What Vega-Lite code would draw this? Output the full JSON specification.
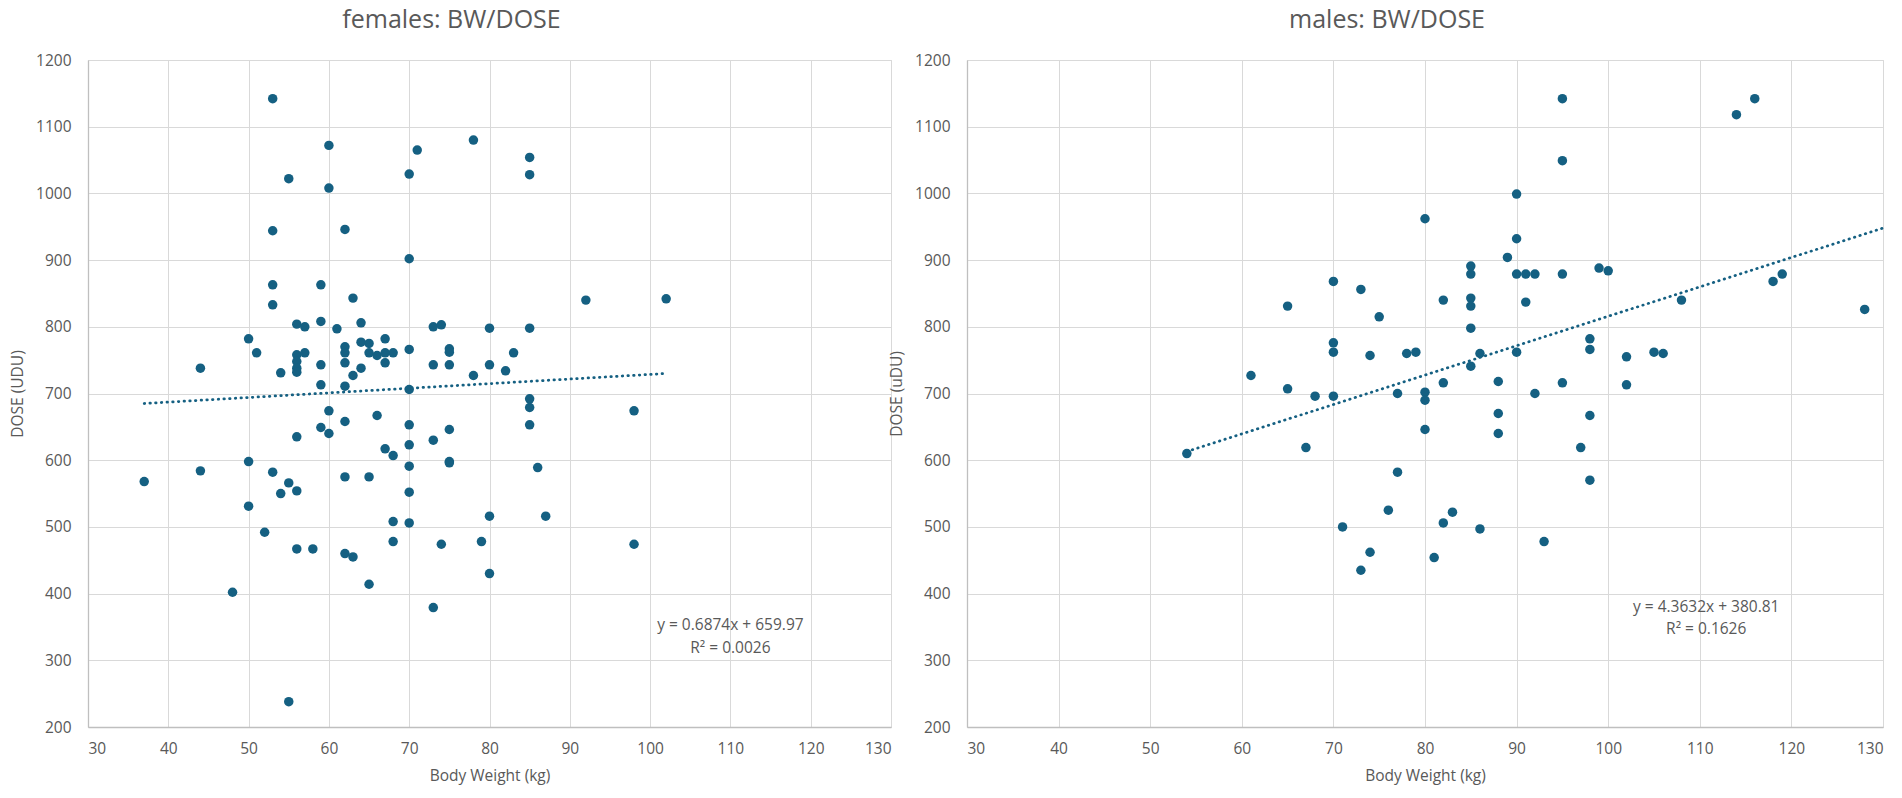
{
  "$schema": "https://vega.github.io/schema/vega-lite/v6.json",
  "background": "white",
  "padding": {"left": 10, "top": 7, "right": 3, "bottom": 0},
  "datasets": {
    "females": [
      {"bw": 53, "dose": 1142}, {"bw": 60, "dose": 1072}, {"bw": 71, "dose": 1065}, {"bw": 78, "dose": 1080},
      {"bw": 55, "dose": 1022}, {"bw": 60, "dose": 1008}, {"bw": 70, "dose": 1029}, {"bw": 53, "dose": 944},
      {"bw": 62, "dose": 946}, {"bw": 70, "dose": 902}, {"bw": 53, "dose": 863}, {"bw": 59, "dose": 863},
      {"bw": 53, "dose": 833}, {"bw": 63, "dose": 843}, {"bw": 59, "dose": 808}, {"bw": 56, "dose": 804},
      {"bw": 57, "dose": 800}, {"bw": 61, "dose": 797}, {"bw": 64, "dose": 806}, {"bw": 73, "dose": 800},
      {"bw": 74, "dose": 803}, {"bw": 50, "dose": 782}, {"bw": 51, "dose": 761}, {"bw": 44, "dose": 738},
      {"bw": 54, "dose": 731}, {"bw": 56, "dose": 758}, {"bw": 56, "dose": 748}, {"bw": 56, "dose": 738},
      {"bw": 56, "dose": 732}, {"bw": 57, "dose": 761}, {"bw": 59, "dose": 743}, {"bw": 59, "dose": 713},
      {"bw": 62, "dose": 770}, {"bw": 62, "dose": 761}, {"bw": 62, "dose": 746}, {"bw": 62, "dose": 711},
      {"bw": 63, "dose": 727}, {"bw": 64, "dose": 777}, {"bw": 64, "dose": 738}, {"bw": 65, "dose": 775},
      {"bw": 65, "dose": 761}, {"bw": 66, "dose": 757}, {"bw": 67, "dose": 782}, {"bw": 67, "dose": 761},
      {"bw": 67, "dose": 746}, {"bw": 68, "dose": 761}, {"bw": 70, "dose": 766}, {"bw": 73, "dose": 743},
      {"bw": 75, "dose": 767}, {"bw": 75, "dose": 762}, {"bw": 75, "dose": 743}, {"bw": 78, "dose": 727},
      {"bw": 60, "dose": 674}, {"bw": 59, "dose": 649}, {"bw": 60, "dose": 640}, {"bw": 62, "dose": 658},
      {"bw": 66, "dose": 667}, {"bw": 56, "dose": 635}, {"bw": 70, "dose": 706}, {"bw": 70, "dose": 653},
      {"bw": 70, "dose": 623}, {"bw": 70, "dose": 591}, {"bw": 70, "dose": 552}, {"bw": 70, "dose": 506},
      {"bw": 73, "dose": 630}, {"bw": 75, "dose": 646}, {"bw": 75, "dose": 598}, {"bw": 75, "dose": 596},
      {"bw": 67, "dose": 617}, {"bw": 68, "dose": 607}, {"bw": 50, "dose": 598}, {"bw": 44, "dose": 584},
      {"bw": 37, "dose": 568}, {"bw": 53, "dose": 582}, {"bw": 55, "dose": 566}, {"bw": 54, "dose": 550},
      {"bw": 56, "dose": 554}, {"bw": 50, "dose": 531}, {"bw": 52, "dose": 492}, {"bw": 56, "dose": 467},
      {"bw": 58, "dose": 467}, {"bw": 62, "dose": 575}, {"bw": 65, "dose": 575}, {"bw": 68, "dose": 508},
      {"bw": 68, "dose": 478}, {"bw": 62, "dose": 460}, {"bw": 63, "dose": 455}, {"bw": 65, "dose": 414},
      {"bw": 48, "dose": 402}, {"bw": 73, "dose": 379}, {"bw": 74, "dose": 474}, {"bw": 79, "dose": 478},
      {"bw": 85, "dose": 1054}, {"bw": 85, "dose": 1028}, {"bw": 92, "dose": 840}, {"bw": 102, "dose": 842},
      {"bw": 80, "dose": 798}, {"bw": 85, "dose": 798}, {"bw": 83, "dose": 761}, {"bw": 80, "dose": 743},
      {"bw": 82, "dose": 734}, {"bw": 85, "dose": 692}, {"bw": 85, "dose": 679}, {"bw": 85, "dose": 653},
      {"bw": 98, "dose": 674}, {"bw": 86, "dose": 589}, {"bw": 80, "dose": 516}, {"bw": 87, "dose": 516},
      {"bw": 98, "dose": 474}, {"bw": 80, "dose": 430}, {"bw": 55, "dose": 238}
    ],
    "females_trend": [{"bw": 37, "dose": 685}, {"bw": 102, "dose": 730}],
    "females_eq": [
      {"bw": 110, "dose": 353, "label": "y = 0.6874x + 659.97"},
      {"bw": 110, "dose": 318, "label": "R² = 0.0026"}
    ],
    "males": [
      {"bw": 80, "dose": 962}, {"bw": 70, "dose": 868}, {"bw": 73, "dose": 856}, {"bw": 65, "dose": 831},
      {"bw": 75, "dose": 815}, {"bw": 70, "dose": 776}, {"bw": 70, "dose": 762}, {"bw": 74, "dose": 757},
      {"bw": 78, "dose": 760}, {"bw": 79, "dose": 762}, {"bw": 61, "dose": 727}, {"bw": 65, "dose": 707},
      {"bw": 68, "dose": 696}, {"bw": 70, "dose": 696}, {"bw": 77, "dose": 700}, {"bw": 80, "dose": 702},
      {"bw": 80, "dose": 690}, {"bw": 80, "dose": 646}, {"bw": 54, "dose": 610}, {"bw": 67, "dose": 619},
      {"bw": 77, "dose": 582}, {"bw": 76, "dose": 525}, {"bw": 71, "dose": 500}, {"bw": 74, "dose": 462},
      {"bw": 73, "dose": 435}, {"bw": 81, "dose": 454}, {"bw": 95, "dose": 1142}, {"bw": 114, "dose": 1118},
      {"bw": 116, "dose": 1142}, {"bw": 95, "dose": 1049}, {"bw": 90, "dose": 999}, {"bw": 90, "dose": 932},
      {"bw": 89, "dose": 904}, {"bw": 85, "dose": 891}, {"bw": 85, "dose": 879}, {"bw": 90, "dose": 879},
      {"bw": 91, "dose": 879}, {"bw": 92, "dose": 879}, {"bw": 95, "dose": 879}, {"bw": 99, "dose": 888},
      {"bw": 100, "dose": 884}, {"bw": 82, "dose": 840}, {"bw": 85, "dose": 843}, {"bw": 85, "dose": 831},
      {"bw": 91, "dose": 837}, {"bw": 85, "dose": 798}, {"bw": 108, "dose": 840}, {"bw": 118, "dose": 868},
      {"bw": 119, "dose": 879}, {"bw": 128, "dose": 826}, {"bw": 98, "dose": 782}, {"bw": 98, "dose": 766},
      {"bw": 102, "dose": 755}, {"bw": 105, "dose": 762}, {"bw": 106, "dose": 760}, {"bw": 90, "dose": 762},
      {"bw": 86, "dose": 760}, {"bw": 85, "dose": 741}, {"bw": 82, "dose": 716}, {"bw": 88, "dose": 718},
      {"bw": 95, "dose": 716}, {"bw": 102, "dose": 713}, {"bw": 92, "dose": 700}, {"bw": 88, "dose": 670},
      {"bw": 88, "dose": 640}, {"bw": 98, "dose": 667}, {"bw": 97, "dose": 619}, {"bw": 98, "dose": 570},
      {"bw": 83, "dose": 522}, {"bw": 82, "dose": 506}, {"bw": 86, "dose": 497}, {"bw": 93, "dose": 478}
    ],
    "males_trend": [{"bw": 54, "dose": 613}, {"bw": 130, "dose": 948}],
    "males_eq": [
      {"bw": 110.7, "dose": 380, "label": "y = 4.3632x + 380.81"},
      {"bw": 110.7, "dose": 347, "label": "R² = 0.1626"}
    ]
  },
  "bounds": "flush",
  "spacing": 76,
  "hconcat": [
    {
      "title": {"text": "females: BW/DOSE", "dx": -38},
      "width": 803,
      "height": 667,
      "encoding": {
        "x": {
          "field": "bw", "type": "quantitative",
          "scale": {"domain": [30, 130], "nice": false, "zero": false},
          "axis": {"title": "Body Weight (kg)", "format": "d", "values": [30, 40, 50, 60, 70, 80, 90, 100, 110, 120, 130]}
        },
        "y": {
          "field": "dose", "type": "quantitative",
          "scale": {"domain": [200, 1200], "nice": false, "zero": false},
          "axis": {"title": "DOSE (UDU)", "format": "d", "values": [200, 300, 400, 500, 600, 700, 800, 900, 1000, 1100, 1200]}
        }
      },
      "layer": [
        {"data": {"name": "females"}, "mark": {"type": "circle", "size": 90, "opacity": 1, "color": "#156082"}},
        {
          "data": {"name": "females_trend"},
          "mark": {"type": "line", "color": "#156082", "strokeWidth": 2.75, "strokeDash": [0.5, 5.2], "strokeCap": "round"}
        },
        {
          "data": {"name": "females_eq"},
          "mark": {"type": "text", "font": "Open Sans", "fontSize": 15.5, "color": "#595959", "align": "center", "baseline": "middle"},
          "encoding": {"text": {"field": "label"}}
        }
      ]
    },
    {
      "title": {"text": "males: BW/DOSE", "dx": -38},
      "width": 916,
      "height": 667,
      "encoding": {
        "x": {
          "field": "bw", "type": "quantitative",
          "scale": {"domain": [30, 130], "nice": false, "zero": false},
          "axis": {"title": "Body Weight (kg)", "format": "d", "values": [30, 40, 50, 60, 70, 80, 90, 100, 110, 120, 130]}
        },
        "y": {
          "field": "dose", "type": "quantitative",
          "scale": {"domain": [200, 1200], "nice": false, "zero": false},
          "axis": {"title": "DOSE (uDU)", "format": "d", "values": [200, 300, 400, 500, 600, 700, 800, 900, 1000, 1100, 1200]}
        }
      },
      "layer": [
        {"data": {"name": "males"}, "mark": {"type": "circle", "size": 90, "opacity": 1, "color": "#156082"}},
        {
          "data": {"name": "males_trend"},
          "mark": {"type": "line", "color": "#156082", "strokeWidth": 2.75, "strokeDash": [0.5, 5.2], "strokeCap": "round"}
        },
        {
          "data": {"name": "males_eq"},
          "mark": {"type": "text", "font": "Open Sans", "fontSize": 15.5, "color": "#595959", "align": "center", "baseline": "middle"},
          "encoding": {"text": {"field": "label"}}
        }
      ]
    }
  ],
  "config": {
    "view": {"stroke": "#d9d9d9"},
    "title": {"font": "Open Sans", "fontSize": 25, "fontWeight": "normal", "color": "#595959", "anchor": "middle", "offset": 20},
    "axis": {
      "grid": true,
      "gridColor": "#d9d9d9",
      "gridWidth": 1,
      "ticks": false,
      "domainColor": "#bfbfbf",
      "domainWidth": 1.3,
      "labelFont": "Open Sans",
      "labelFontSize": 15.5,
      "labelColor": "#595959",
      "titleFont": "Open Sans",
      "titleFontSize": 15.5,
      "titleFontWeight": "normal",
      "titleColor": "#595959"
    },
    "axisX": {"labelPadding": 14, "titlePadding": 12},
    "axisY": {"labelPadding": 17, "titlePadding": 10}
  }
}
